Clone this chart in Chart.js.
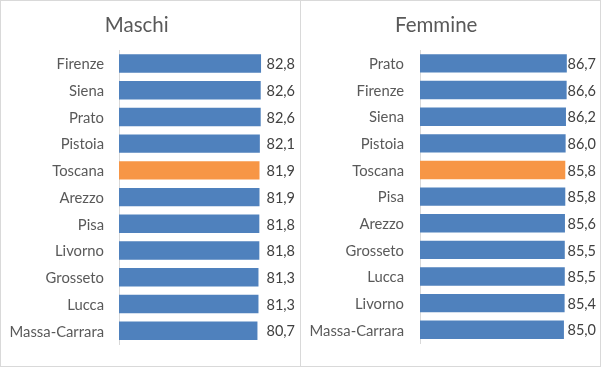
<!DOCTYPE html>
<html>
<head>
<meta charset="utf-8">
<script src="https://cdn.jsdelivr.net/npm/chart.js@4/dist/chart.umd.min.js"></script>
<style>
    body { margin: 0; background: #fff; }
    #wrap { position: relative; width: 601px; height: 368px; }
    .box { position: absolute; top: 0; height: 367px; width: 301px; box-sizing: border-box; border: 1px solid #d9d9d9; }
    canvas { position: absolute; top: 0; }
</style>
</head>
<body>
<div id="wrap">
    <div class="box" style="left:0"></div>
    <div class="box" style="left:300px"></div>
    <canvas id="maschi-chart" width="300" height="368" style="left:0"></canvas>
    <canvas id="femmine-chart" width="301" height="368" style="left:300px"></canvas>
</div>
<script>
// data
var maschiLabels = ['Firenze', 'Siena', 'Prato', 'Pistoia', 'Toscana', 'Arezzo', 'Pisa', 'Livorno', 'Grosseto', 'Lucca', 'Massa-Carrara'];
var maschiValues = [82.8, 82.6, 82.6, 82.1, 81.9, 81.9, 81.8, 81.8, 81.3, 81.3, 80.7];

var femmineLabels = ['Prato', 'Firenze', 'Siena', 'Pistoia', 'Toscana', 'Pisa', 'Arezzo', 'Grosseto', 'Lucca', 'Livorno', 'Massa-Carrara'];
var femmineValues = [86.7, 86.6, 86.2, 86.0, 85.8, 85.8, 85.6, 85.5, 85.5, 85.4, 85.0];

var blue = '#4f81bd';
var orange = '#f79646';
var font = 'Lato, "Open Sans", sans-serif';

// value labels, right aligned near the right edge like excel does it
var valueLabels = {
    id: 'valueLabels',
    afterDatasetsDraw: function (chart) {
        var ctx = chart.ctx;
        var meta = chart.getDatasetMeta(0);
        var values = chart.data.datasets[0].data;
        ctx.save();
        ctx.font = '14.5px ' + font;
        ctx.fillStyle = '#404040';
        ctx.textAlign = 'right';
        ctx.textBaseline = 'middle';
        meta.data.forEach(function (bar, i) {
            var txt = values[i].toFixed(1).replace('.', ',');
            ctx.fillText(txt, chart.width - 5, bar.y + 1);
        });
        ctx.restore();
    }
};

function makeChart(id, title, labels, values, axisWidth, padRight, labelPad) {
    var colors = [];
    labels.forEach(function (l) {
        colors.push(l == 'Toscana' ? orange : blue);
    });

    return new Chart(document.getElementById(id), {
        type: 'bar',
        data: {
            labels: labels,
            datasets: [{
                data: values,
                backgroundColor: colors,
                categoryPercentage: 1,
                barPercentage: 0.69
            }]
        },
        options: {
            indexAxis: 'y',
            responsive: false,
            animation: false,
            layout: { padding: { left: 0, right: padRight, top: 0, bottom: 15 } },
            plugins: {
                legend: { display: false },
                tooltip: { enabled: false },
                title: {
                    display: true,
                    text: title,
                    color: '#595959',
                    font: { family: font, size: 20.5, weight: 'normal' },
                    padding: { top: 13.5, bottom: 12 }
                }
            },
            scales: {
                x: { display: false, min: 0, max: 90 },
                y: {
                    afterFit: function (scale) { scale.width = axisWidth; },
                    grid: { display: true, drawOnChartArea: false, drawTicks: false },
                    border: { display: true, color: '#d9d9d9', width: 1 },
                    ticks: {
                        color: '#595959',
                        padding: labelPad,
                        labelOffset: 1,
                        font: { family: font, size: 14.8 }
                    }
                }
            }
        },
        plugins: [valueLabels]
    });
}

makeChart('maschi-chart', 'Maschi', maschiLabels, maschiValues, 119, 26.6, 15);
makeChart('femmine-chart', 'Femmine', femmineLabels, femmineValues, 120, 28.6, 16);
</script>
</body>
</html>
